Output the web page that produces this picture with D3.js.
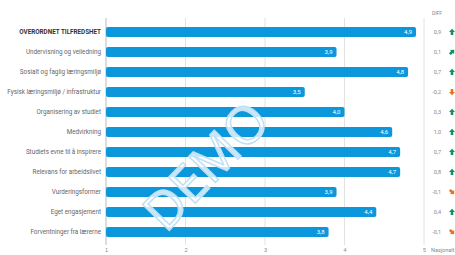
<!DOCTYPE html>
<html>
<head>
<meta charset="utf-8">
<script src="https://cdn.jsdelivr.net/npm/d3@7"></script>
<style>
  body { margin: 0; background: #fff; }
  svg { font-family: Roboto, "Noto Sans", sans-serif; display: block; }
</style>
</head>
<body>
<script>
const WIDTH = 455;
const HEIGHT = 255;

const categories = [
  "OVERORDNET TILFREDSHET",
  "Undervisning og veiledning",
  "Sosialt og faglig læringsmiljø",
  "Fysisk læringsmiljø / infrastruktur",
  "Organisering av studiet",
  "Medvirkning",
  "Studiets evne til å inspirere",
  "Relevans for arbeidslivet",
  "Vurderingsformer",
  "Eget engasjement",
  "Forventninger fra lærerne"
];
const scores = [4.9, 3.9, 4.8, 3.5, 4.0, 4.6, 4.7, 4.7, 3.9, 4.4, 3.8];
const diffs = [0.9, 0.1, 0.7, -0.2, 0.3, 1.0, 0.7, 0.8, -0.1, 0.4, -0.1];
const ticks = [1, 2, 3, 4, 5];

const fmt = v => v.toFixed(1).replace('.', ',');

const svg = d3.select('body').append('svg')
  .attr('width', WIDTH).attr('height', HEIGHT);

const x = d3.scaleLinear().domain([1, 5]).range([106, 424]);
const y = d3.scaleBand().domain(categories).range([22, 242])
  .paddingInner(0.5).paddingOuter(0.25);

// grid
svg.append('g').selectAll('line').data(ticks).enter().append('line')
  .attr('x1', d => x(d)).attr('x2', d => x(d))
  .attr('y1', 18).attr('y2', 245)
  .attr('stroke', d => d === 1 ? '#bbb' : '#e2e2e2')
  .attr('stroke-width', 1);

// x axis labels
const xAxis = d3.axisBottom(x).tickValues(ticks).tickSize(0).tickPadding(0)
  .tickFormat(d3.format('d'));
const ax = svg.append('g').attr('transform', 'translate(0,248)').call(xAxis);
ax.select('.domain').remove();
ax.selectAll('text').attr('fill', '#888').style('font-size', '5.5px');

// category labels
svg.append('g').selectAll('text').data(categories).enter().append('text')
  .attr('x', 101)
  .attr('y', d => y(d) + y.bandwidth() / 2)
  .attr('dy', '0.35em')
  .attr('text-anchor', 'end')
  .attr('fill', (d, i) => i === 0 ? '#333' : '#666')
  .style('font-size', '6.3px')
  .style('font-weight', (d, i) => i === 0 ? 'bold' : 'normal')
  .text(d => d);

// bars
svg.append('g').selectAll('rect').data(scores).enter().append('rect')
  .attr('x', x(1))
  .attr('y', (d, i) => y(categories[i]))
  .attr('width', d => x(d) - x(1))
  .attr('height', y.bandwidth())
  .attr('rx', 2)
  .attr('fill', '#0a97dc');

svg.append('g').selectAll('text').data(scores).enter().append('text')
  .attr('x', d => x(d) - 4)
  .attr('y', (d, i) => y(categories[i]) + y.bandwidth() / 2)
  .attr('dy', '0.35em')
  .attr('text-anchor', 'end')
  .attr('fill', '#fff')
  .style('font-size', '6px')
  .text(d => fmt(d));

// watermark
svg.append('text')
  .attr('transform', 'translate(206,166) rotate(-46)')
  .attr('text-anchor', 'middle')
  .attr('dy', '0.35em')
  .attr('fill', 'rgba(255,255,255,0.78)')
  .attr('stroke', '#bfe0f5')
  .attr('stroke-width', 1.5)
  .style('font-size', '52px')
  .style('font-family', '"Open Sans", sans-serif')
  .text('DEMO');

// right column: diffs
svg.append('text').attr('x', 437).attr('y', 15)
  .attr('text-anchor', 'middle').attr('fill', '#888')
  .style('font-size', '5px').text('DIFF');

svg.append('g').selectAll('text').data(diffs).enter().append('text')
  .attr('x', 441)
  .attr('y', (d, i) => y(categories[i]) + y.bandwidth() / 2)
  .attr('dy', '0.35em')
  .attr('text-anchor', 'end')
  .attr('fill', '#888')
  .style('font-size', '5.5px')
  .text(d => fmt(d));

const arrow = 'M0,-3.2 L3,0 L1.3,0 L1.3,3 L-1.3,3 L-1.3,0 L-3,0 Z';
svg.append('g').selectAll('path').data(diffs).enter().append('path')
  .attr('d', arrow)
  .attr('transform', (d, i) => {
    const c = Math.max(-0.2, Math.min(0.2, d));
    const ang = 90 - c / 0.2 * 90;
    return 'translate(452,' + (y(categories[i]) + y.bandwidth() / 2) + ') rotate(' + ang + ')';
  })
  .attr('fill', d => d >= 0 ? '#13915c' : '#ee6f1c');

svg.append('text').attr('x', 431).attr('y', 252)
  .attr('fill', '#888').style('font-size', '5.5px').text('Nasjonalt');
</script>
</body>
</html>
